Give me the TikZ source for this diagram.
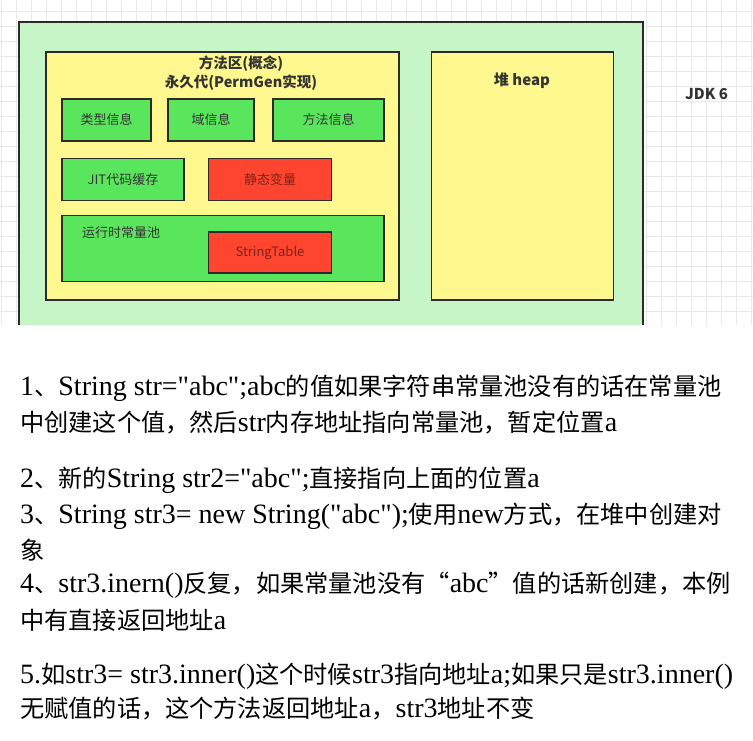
\documentclass[tikz,border=0pt]{standalone}
\usepackage{fontspec}
\newfontfamily\notefont{Liberation Serif}
\newfontfamily\cjk{Noto Sans CJK SC}
\usetikzlibrary{positioning}

\definecolor{gridgray}{HTML}{E8E8E8}
\definecolor{outergreen}{HTML}{C6F5C8}
\definecolor{areayellow}{HTML}{FFF88E}
\definecolor{boxgreen}{HTML}{5AE65C}
\definecolor{boxred}{HTML}{FF4530}
\definecolor{edgedark}{HTML}{2B2B2B}
\definecolor{labelgray}{HTML}{333333}
\definecolor{labelred}{HTML}{7A2418}

% chinese run inside the notes
\newcommand{\zh}[1]{{\cjk\fontsize{24.2}{24.2}\selectfont #1}}

\begin{document}
\begin{tikzpicture}[x=1pt, y=-1pt,
  every node/.style={font=\cjk\fontsize{13}{13}\selectfont, text=labelgray},
  area/.style={draw=edgedark, line width=1.2pt, fill=areayellow, inner sep=0pt},
  infobox/.style={draw=edgedark, line width=1.2pt, fill=boxgreen, inner sep=0pt, minimum height=42pt},
  hotbox/.style={infobox, fill=boxred, text=labelred},
  heading/.style={font=\cjk\bfseries\fontsize{14.5}{14.5}\selectfont},
  note/.style={anchor=west, inner sep=0pt, text=black, font=\notefont\fontsize{28}{28}\selectfont}]
  \useasboundingbox (0,0) rectangle (753,740);

  % grid paper
  \foreach \gx in {1.7,16.7,...,753} \draw[gridgray, line width=0.8pt] (\gx,0) -- (\gx,325);
  \foreach \gy in {11.7,26.7,...,325} \draw[gridgray, line width=0.8pt] (0,\gy) -- (753,\gy);

  % jvm frame
  \fill[outergreen] (19,22) rectangle (643,325);
  \draw[edgedark, line width=1.2pt] (19,325) -- (19,22) -- (643,22) -- (643,325);
  \node[heading, font=\cjk\bfseries\fontsize{15}{15}\selectfont] (jdk) at (706.5,94.5) {JDK 6};

  % method area
  \node[area, minimum width=353pt, minimum height=248pt] (methodarea) at (222.5,176) {};
  \node[heading] (areatitle) at (241,64) {方法区(概念)};
  \node[heading] (permgen) at (241,82.7) {永久代(PermGen实现)};

  \node[infobox, minimum width=89pt] (typeinfo) at (106.5,120) {类型信息};
  \node[infobox, minimum width=86pt] (fieldinfo) at (211,120) {域信息};
  \node[infobox, minimum width=111pt] (methodinfo) at (328.5,120) {方法信息};

  \node[infobox, minimum width=122pt] (jitcache) at (123,179.5) {JIT代码缓存};
  \node[hotbox, minimum width=123pt] (staticvar) at (270,179.5) {静态变量};

  \node[infobox, minimum width=322pt, minimum height=66pt] (constpool) at (223,248.5) {};
  \node (poollabel) at (121,232.5) {运行时常量池};
  \node[hotbox, minimum width=123pt, minimum height=41pt] (stringtable) at (270,252.5) {StringTable};

  % heap
  \node[area, minimum width=182pt, minimum height=248pt] (heap) at (522.5,176) {};
  \node[heading, font=\cjk\bfseries\fontsize{15}{15}\selectfont] (heaptitle) at (522,80.5) {堆 heap};

  % notes
  \node[note] (note1a) at (20,388) {1\zh{、}String str="abc";abc\zh{的值如果字符串常量池没有的话在常量池}};
  \node[note] (note1b) at (20,423) {\zh{中创建这个值，然后}str\zh{内存地址指向常量池，暂定位置}a};
  \node[note] (note2) at (20,480) {2\zh{、新的}String str2="abc";\zh{直接指向上面的位置}a};
  \node[note] (note3a) at (20,516) {3\zh{、}String str3= new String("abc");\zh{使用}new\zh{方式，在堆中创建对}};
  \node[note] (note3b) at (20,550) {\zh{象}};
  \node[note] (note4a) at (20,585) {4\zh{、}str3.inern()\zh{反复，如果常量池没有“}abc\zh{”值的话新创建，本例}};
  \node[note] (note4b) at (20,620) {\zh{中有直接返回地址}a};
  \node[note] (note5a) at (20,676) {5.\zh{如}str3= str3.inner()\zh{这个时候}str3\zh{指向地址}a;\zh{如果只是}str3.inner()};
  \node[note] (note5b) at (20,709) {\zh{无赋值的话，这个方法返回地址}a\zh{，}str3\zh{地址不变}};
\end{tikzpicture}
\end{document}
